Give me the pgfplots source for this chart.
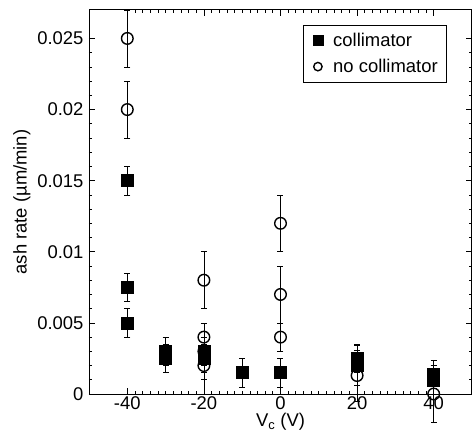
\documentclass[border=0pt]{standalone}
\usepackage{pgfplots}
\pgfplotsset{compat=1.18}
\usepackage{fontspec}
\setmainfont{Liberation Sans}
\begin{document}
\begin{tikzpicture}
\path[use as bounding box] (-89bp,-47bp) rectangle (384bp,394bp);
\begin{axis}[
  scale only axis,
  width=383bp, height=384bp,
  xmin=-50, xmax=50, ymin=0, ymax=0.027,
  xtick={-40,-20,0,20,40},
  ytick={0,0.005,0.01,0.015,0.02,0.025},
  minor x tick num=9,
  minor y tick num=4,
  tick align=inside,
  major tick length=6bp,
  minor tick length=3bp,
  every tick/.style={black, line width=0.7pt},
  axis line style={line width=1pt},
  tick label style={font=\fontsize{18.5}{20}\selectfont},
  label style={font=\fontsize{18.5}{20}\selectfont},
  /pgf/number format/assume math mode=true,
  yticklabel style={/pgf/number format/fixed, /pgf/number format/precision=3, xshift=-2bp},
  xticklabel style={yshift=1bp},
  scaled y ticks=false,
  xlabel={V$_\mathrm{c}$ (V)},
  ylabel={ash rate (\symbol{"00B5}m/min)},
  xlabel style={yshift=3bp},
  ylabel style={yshift=0bp},
  clip=false,
  legend style={at={(0.935,0.961)}, anchor=north east, draw=black, line width=0.8pt,
    font=\fontsize{18.5}{20}\selectfont, row sep=7bp, inner xsep=6bp, inner ysep=6bp,
    nodes={inner xsep=3bp}},
  legend cell align=left,
  legend image code/.code={%
    \draw[mark repeat=2,mark phase=2,#1] plot coordinates {(0cm,0cm) (0.3cm,0cm) (0.6cm,0cm)};
    \path (0cm,0cm) (0.72cm,0cm);},
]
\addplot+[only marks, mark=square*, mark size=6bp, black, mark options={fill=black},
  legend image post style={mark size=5bp},
  error bars/.cd, y dir=both, y explicit,
  error bar style={line width=0.7pt, black},
  error mark options={rotate=90, mark size=3bp, line width=0.7pt, black}]
coordinates {
(-40,0.015) +- (0,0.001)
(-40,0.0075) +- (0,0.001)
(-40,0.005) +- (0,0.001)
(-30,0.003) +- (0,0.001)
(-30,0.0025) +- (0,0.001)
(-20,0.003) +- (0,0.001)
(-20,0.0025) +- (0,0.001)
(-10,0.0015) +- (0,0.001)
(0,0.0015) +- (0,0.001)
(20,0.0025) +- (0,0.001)
(20,0.002) +- (0,0.0014)
(40,0.0014) +- (0,0.001)
(40,0.001) +- (0,0.001)
};
\addlegendentry{collimator}
\addplot+[only marks, mark=o, mark size=5.8bp, black, mark options={fill=white, line width=1.4pt},
  legend image post style={mark size=4.2bp},
  error bars/.cd, y dir=both, y explicit,
  error bar style={line width=0.7pt, black},
  error mark options={rotate=90, mark size=3bp, line width=0.7pt, black}]
coordinates {
(-40,0.025) +- (0,0.002)
(-40,0.02) +- (0,0.002)
(-20,0.008) +- (0,0.002)
(-20,0.004) +- (0,0.001)
(-20,0.003) +- (0,0.002)
(-20,0.002) +- (0,0.002)
(0,0.012) +- (0,0.002)
(0,0.007) +- (0,0.002)
(0,0.004) +- (0,0.001)
(20,0.0013) += (0,0.0018) -= (0,0.0018)
(40,0) +- (0,0.002)
};
\addlegendentry{no collimator}
\end{axis}
\end{tikzpicture}
\end{document}
